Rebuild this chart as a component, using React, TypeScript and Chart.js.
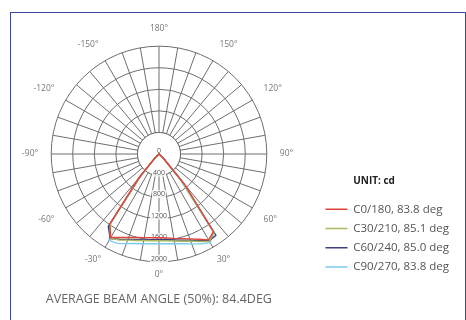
import React, { useEffect, useRef } from "react";
import { Chart, registerables } from "chart.js";

Chart.register(...registerables);

// ---- data ----
const BEAM_ANGLES = [-50, -45, -40, -35, -30, -25, -20, -15, -10, -5, 0, 5, 10, 15, 20, 25, 30, 35, 40, 45, 50];
const C0_180 = [20, 120, 600, 1600, 1790, 1710, 1650, 1605, 1575, 1560, 1555, 1565, 1590, 1625, 1675, 1745, 1840, 1760, 760, 130, 20];
const C30_210 = [20, 100, 520, 1580, 1800, 1760, 1700, 1660, 1630, 1615, 1610, 1618, 1640, 1675, 1720, 1790, 1870, 1780, 640, 110, 20];
const C60_240 = [20, 110, 560, 1640, 1810, 1745, 1685, 1640, 1610, 1595, 1590, 1598, 1620, 1655, 1700, 1770, 1860, 1840, 700, 140, 20];
const C90_270 = [20, 90, 480, 1560, 1850, 1830, 1770, 1720, 1690, 1672, 1665, 1672, 1690, 1725, 1775, 1840, 1900, 1760, 600, 100, 20];

const SERIES_NAMES = ["C0/180, 83.8 deg", "C30/210, 85.1 deg", "C60/240, 85.0 deg", "C90/270, 83.8 deg"];
const SERIES_VALUES = [C0_180, C30_210, C60_240, C90_270];
const SERIES_COLORS = ["#e0463c", "#a8b95e", "#3c407e", "#7ccaec"];

const ANGLE_LABELS = ["0°", "-30°", "-60°", "-90°", "-120°", "-150°", "180°", "150°", "120°", "90°", "60°", "30°"];
const TICK_VALUES = [0, 400, 800, 1200, 1600, 2000];
const UNIT_LABEL = "UNIT: cd";
const TITLE_TEXT = "AVERAGE BEAM ANGLE (50%): 84.4DEG";

const STEP_DEG = 5;
const LABEL_EVERY = 30;
const GRID = "#6e6e6e";

const N = 360 / STEP_DEG;
const angleForIndex = (i: number) => {
  const a = -i * STEP_DEG;
  return a <= -180 ? a + 360 : a;
};
const labels = Array.from({ length: N }, (_, i) =>
  i % (LABEL_EVERY / STEP_DEG) === 0 ? ANGLE_LABELS[i / (LABEL_EVERY / STEP_DEG)] : ""
);
const buildSeries = (vals: number[]) =>
  Array.from({ length: N }, (_, i) => {
    const k = BEAM_ANGLES.indexOf(angleForIndex(i));
    return k >= 0 ? vals[k] : 0;
  });

const holePlugin = {
  id: "holeAndTicks",
  beforeDatasetsDraw(chart: any) {
    const s = chart.scales.r;
    const ctx = chart.ctx;
    const hole = s.getDistanceFromCenterForValue(TICK_VALUES[1]);
    ctx.save();
    ctx.beginPath();
    ctx.arc(s.xCenter, s.yCenter, hole, 0, Math.PI * 2);
    ctx.fillStyle = "#ffffff";
    ctx.fill();
    ctx.strokeStyle = GRID;
    ctx.lineWidth = 1;
    ctx.stroke();
    ctx.font = "7px 'Open Sans'";
    ctx.textAlign = "center";
    ctx.textBaseline = "middle";
    TICK_VALUES.forEach((v) => {
      const y = s.yCenter + s.getDistanceFromCenterForValue(v) - 3;
      const t = String(v);
      const w = ctx.measureText(t).width;
      ctx.fillStyle = "rgba(255,255,255,0.85)";
      ctx.fillRect(s.xCenter - w / 2 - 1, y - 4, w + 2, 8);
      ctx.fillStyle = "#555";
      ctx.fillText(t, s.xCenter, y);
    });
    ctx.restore();
  },
};

export default function App() {
  const ref = useRef<HTMLCanvasElement>(null);
  useEffect(() => {
    if (!ref.current) return;
    Chart.defaults.font.family = "'Open Sans', sans-serif";
    Chart.defaults.color = "#666";
    const chart = new Chart(ref.current, {
      type: "radar",
      data: {
        labels,
        datasets: SERIES_VALUES.map((vals, k) => ({
          label: SERIES_NAMES[k],
          data: buildSeries(vals),
          borderColor: SERIES_COLORS[k],
          backgroundColor: SERIES_COLORS[k],
          borderWidth: 1.4,
          pointRadius: 0,
          fill: false,
          tension: 0,
        })),
      },
      options: {
        animation: false,
        responsive: true,
        maintainAspectRatio: false,
        layout: { padding: { top: 21, left: 0, right: 7, bottom: 0 } },
        scales: {
          r: {
            min: 0,
            max: 2000,
            startAngle: 180,
            ticks: { stepSize: 400, display: false },
            grid: { circular: true, color: GRID, lineWidth: 1 },
            angleLines: {
              color: (c: any) => (c.index % 2 === 0 ? GRID : "rgba(0,0,0,0)"),
              lineWidth: (c: any) => (c.index % 2 === 0 ? 1 : 0),
            },
            pointLabels: {
              display: true,
              color: "#777",
              font: { size: 8.5 },
              padding: (c: any) => (Math.min(c.index, N - c.index) <= 8 ? 8 : 13),
            },
          },
        },
        plugins: {
          legend: {
            position: "right",
            align: "center",
            fullSize: false,
            title: {
              display: true,
              text: UNIT_LABEL + "\u00a0".repeat(11),
              color: "#222",
              font: { size: 10, weight: "bold" },
              padding: { top: 152.25, bottom: 7.5 },
              position: "center",
            },
            labels: {
              usePointStyle: true,
              pointStyle: "line",
              pointStyleWidth: 22,
              padding: 7.75,
              color: "#555",
              font: { size: 11.5 },
            },
          },
          title: {
            display: true,
            text: TITLE_TEXT,
            position: "bottom",
            fullSize: false,
            color: "#666",
            font: { size: 12.5, weight: "normal" },
            padding: { top: 8.5, bottom: 13 },
          },
          tooltip: { enabled: false },
        },
      },
      plugins: [holePlugin],
    } as any);
    return () => chart.destroy();
  }, []);
  return (
    <>
      <div
        style={{
          position: "fixed",
          left: 10,
          top: 12,
          width: 456,
          height: 330,
          borderTop: "1.5px solid #3a47a0",
          borderLeft: "1.5px solid #3a47a0",
          borderRight: "1.5px solid #3a47a0",
          boxSizing: "border-box",
        }}
      />
      <div style={{ position: "fixed", left: 0, top: 0, width: 466, height: 320 }}>
        <canvas ref={ref} />
      </div>
    </>
  );
}
